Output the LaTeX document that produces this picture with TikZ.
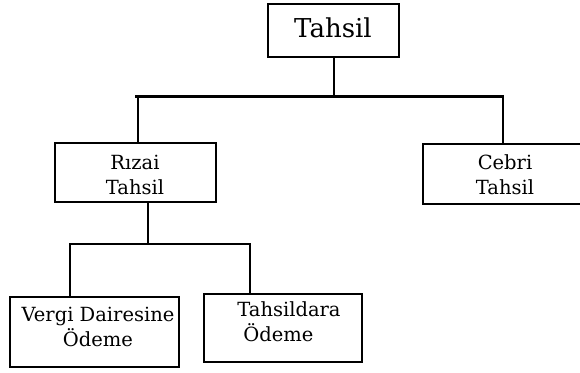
\documentclass[tikz,border=0pt]{standalone}
\usepackage{fontspec}
\setmainfont{DejaVu Serif}
\begin{document}
\begin{tikzpicture}[x=1pt,y=-1pt,
  box/.style={draw=black,line width=2pt,fill=white,inner sep=0pt},
  lbl/.style={font=\fontsize{19.5}{25}\selectfont,align=center,inner sep=0pt},
  toplbl/.style={font=\fontsize{26}{30}\selectfont,inner sep=0pt},
  wire/.style={line width=2pt,line cap=rect},
  mainwire/.style={line width=3pt,line cap=butt}]
\useasboundingbox[fill=white] (0,0) rectangle (580,372);

% boxes
\node[box,minimum width=131pt,minimum height=53pt] (top) at (333.5,30.5) {};
\node[box,minimum width=161pt,minimum height=59pt] (riz) at (135.5,172.5) {};
\node[box,minimum width=164pt,minimum height=60pt] (ceb) at (505,174) {};
\node[box,minimum width=169pt,minimum height=70pt] (verg) at (94.5,332) {};
\node[box,minimum width=158pt,minimum height=68pt] (tahs) at (283,328) {};

% labels
\node[toplbl] (toptxt) at (333,28) {Tahsil};
\node[lbl] (riztxt) at (135,175) {Rızai\\Tahsil};
\node[lbl] (cebtxt) at (505,175) {Cebri\\Tahsil};
\node[lbl] (vergtxt) at (98,327) {Vergi Dairesine\\Ödeme};
\node[lbl,align=left] (tahstxt) at (289,322) {Tahsildara\\\hspace*{6pt}Ödeme};

% first level of branches
\coordinate (barL) at (135,96);
\coordinate (barR) at (504,96);
\draw[wire] (top.south) -- (top.south |- barL);
\draw[mainwire] (barL) -- (barR);
\draw[wire] (riz.north -| 138,0) coordinate (rizin) -- (rizin |- barL);
\draw[wire] (ceb.north -| 503,0) coordinate (cebin) -- (cebin |- barR);

% second level of branches
\coordinate (subL) at (70,244);
\coordinate (subR) at (250,244);
\draw[wire] ([xshift=12.5pt]riz.south) -- ([xshift=12.5pt]riz.south |- subL);
\draw[wire] (subL) -- (subR);
\draw[wire] (subL) -- (subL |- verg.north);
\draw[wire] (subR) -- (subR |- tahs.north);
\end{tikzpicture}
\end{document}
